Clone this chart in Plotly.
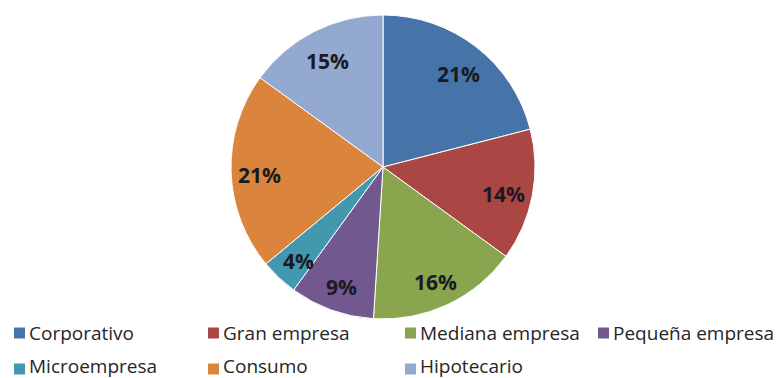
import math
import plotly.graph_objects as go

categories = ["Corporativo", "Gran empresa", "Mediana empresa", "Pequeña empresa",
              "Microempresa", "Consumo", "Hipotecario"]
values = [21, 14, 16, 9, 4, 21, 15]
colors = ["#4673A8", "#AA4643", "#89A54E", "#71588F", "#4198AF", "#DB843D", "#93A9CF"]

W, H = 776, 378
cx, cy, r = 383, 167, 152

fig = go.Figure(go.Pie(
    labels=categories,
    values=values,
    sort=False,
    direction="clockwise",
    rotation=0,
    marker=dict(colors=colors, line=dict(color="white", width=1)),
    textinfo="none",
    showlegend=False,
    hoverinfo="label+percent",
    domain=dict(x=[(cx - r) / W, (cx + r) / W], y=[(H - cy - r) / H, (H - cy + r) / H]),
))

annotations, shapes = [], []

# Data labels placed along each slice bisector (Excel-style, ~0.8 R)
total = sum(values)
cum = 0
k = 0.81
for v in values:
    f = (cum + v / 2) / total
    th = 2 * math.pi * f
    px = cx + k * r * math.sin(th)
    py = cy - k * r * math.cos(th) + 4
    annotations.append(dict(text=f"{round(100 * v / total)}%", xref="paper", yref="paper",
                            x=px / W, y=(H - py) / H, xanchor="center", yanchor="middle",
                            showarrow=False,
                            font=dict(family="Open Sans", size=21, color="#1a1a22", weight="bold")))
    cum += v

# Manual legend (two rows, four columns)
col_x = [14, 208, 405, 598]
row_y = [333, 366]
sq = 11
for i, (name, col) in enumerate(zip(categories, colors)):
    row, c = divmod(i, 4)
    x0 = col_x[c]
    yc = row_y[row]
    sy = yc + (3 if row == 1 else 0)
    shapes.append(dict(type="rect", xref="paper", yref="paper",
                       x0=x0 / W, x1=(x0 + sq) / W,
                       y0=(H - sy - sq / 2) / H, y1=(H - sy + sq / 2) / H,
                       fillcolor=col, line=dict(width=0)))
    annotations.append(dict(text=name, xref="paper", yref="paper",
                            x=(x0 + sq + 3) / W, y=(H - yc) / H,
                            xanchor="left", yanchor="middle", showarrow=False, borderpad=0,
                            font=dict(family="Open Sans", size=19, color="#262626")))

fig.update_layout(
    width=W, height=H,
    margin=dict(l=0, r=0, t=0, b=0),
    paper_bgcolor="white", plot_bgcolor="white",
    shapes=shapes, annotations=annotations,
)

fig.write_html("out.html")
